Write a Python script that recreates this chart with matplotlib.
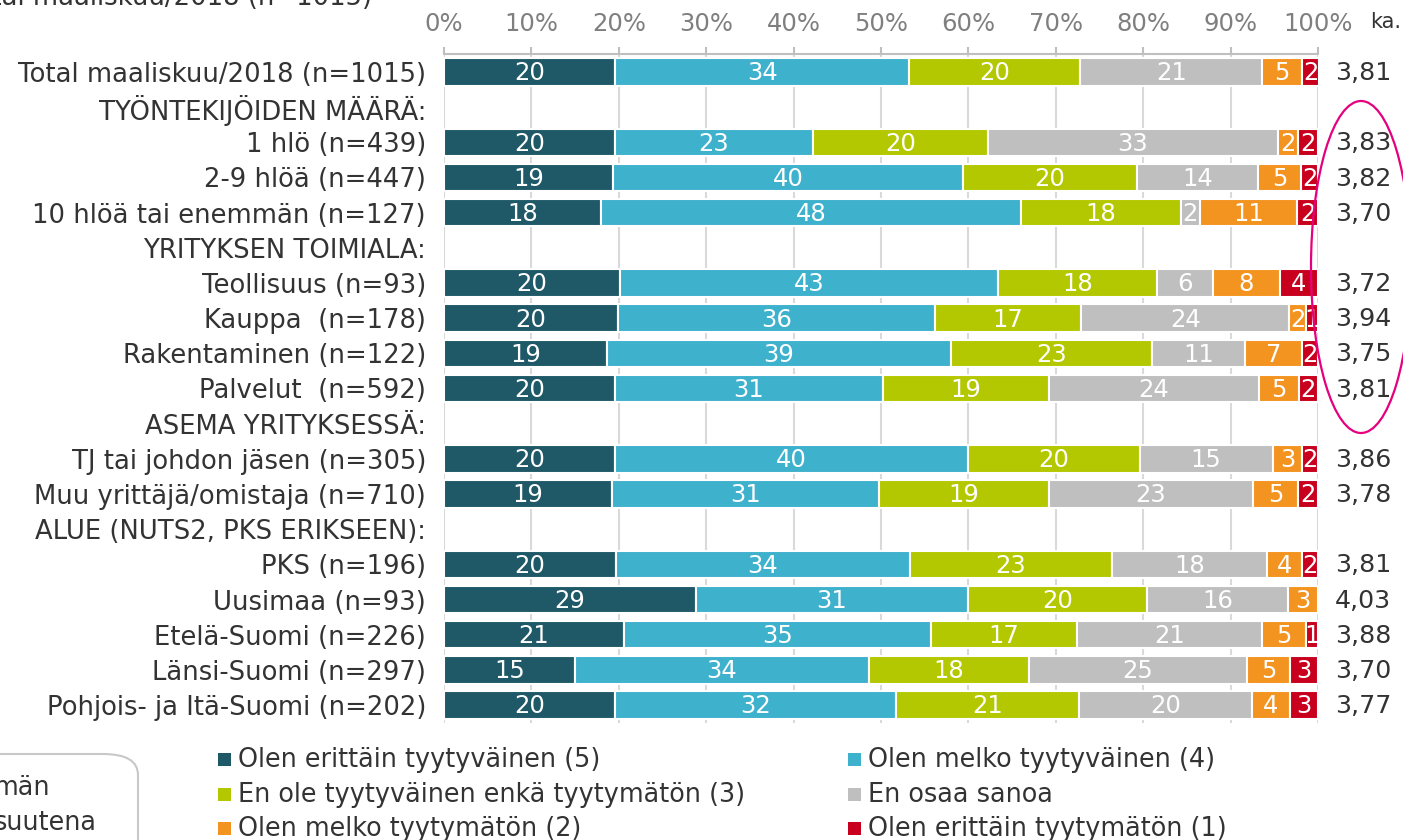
import matplotlib.pyplot as plt
from matplotlib.patches import Ellipse, FancyBboxPatch, Rectangle
import numpy as np

plt.rcParams['font.family'] = ['DejaVu Sans']

# Data (percent shares per row, None = group heading)
row_labels = [
    "Total maaliskuu/2018 (n=1015)",
    "TYÖNTEKIJÖIDEN MÄÄRÄ:",
    "1 hlö (n=439)",
    "2-9 hlöä (n=447)",
    "10 hlöä tai enemmän (n=127)",
    "YRITYKSEN TOIMIALA:",
    "Teollisuus (n=93)",
    "Kauppa  (n=178)",
    "Rakentaminen (n=122)",
    "Palvelut  (n=592)",
    "ASEMA YRITYKSESSÄ:",
    "TJ tai johdon jäsen (n=305)",
    "Muu yrittäjä/omistaja (n=710)",
    "ALUE (NUTS2, PKS ERIKSEEN):",
    "PKS (n=196)",
    "Uusimaa (n=93)",
    "Etelä-Suomi (n=226)",
    "Länsi-Suomi (n=297)",
    "Pohjois- ja Itä-Suomi (n=202)",
]

very_satisfied = [19.6, None, 19.6, 19.3, 18.0, None, 20.1, 19.9, 18.6, 19.6, None, 19.6, 19.2, None, 19.7, 28.8, 20.6, 15.0, 19.6]
fairly_satisfied = [33.6, None, 22.6, 40.1, 48.0, None, 43.3, 36.3, 39.4, 30.6, None, 40.3, 30.6, None, 33.6, 31.2, 35.1, 33.6, 32.1]
neutral = [19.6, None, 20.0, 19.9, 18.3, None, 18.2, 16.7, 23.0, 19.0, None, 19.7, 19.4, None, 23.1, 20.4, 16.7, 18.3, 21.0]
dont_know = [20.8, None, 33.2, 13.8, 2.2, None, 6.4, 23.8, 10.6, 24.0, None, 15.2, 23.4, None, 17.8, 16.2, 21.2, 25.0, 19.7]
fairly_unsatisfied = [4.6, None, 2.3, 5.0, 11.1, None, 7.6, 1.9, 6.6, 4.6, None, 3.4, 5.1, None, 4.0, 3.4, 5.0, 4.9, 4.4]
very_unsatisfied = [1.9, None, 2.3, 1.9, 2.4, None, 4.4, 1.4, 1.8, 2.2, None, 1.8, 2.3, None, 1.8, 0.0, 1.4, 3.2, 3.2]

means = ["3,81", None, "3,83", "3,82", "3,70", None, "3,72", "3,94", "3,75", "3,81", None,
         "3,86", "3,78", None, "3,81", "4,03", "3,88", "3,70", "3,77"]

series = [very_satisfied, fairly_satisfied, neutral, dont_know, fairly_unsatisfied, very_unsatisfied]
series_names = ["Olen erittäin tyytyväinen (5)", "Olen melko tyytyväinen (4)",
                "En ole tyytyväinen enkä tyytymätön (3)", "En osaa sanoa",
                "Olen melko tyytymätön (2)", "Olen erittäin tyytymätön (1)"]
colors = ['#1F5968', '#3EB1CD', '#B3C800', '#BFBFBF', '#F39320', '#C8001E']

W, H = 1403, 840
fig = plt.figure(figsize=(W / 100, H / 100), dpi=100)
ax = fig.add_axes([444 / W, 1 - 722.6 / H, 874 / W, (722.6 - 54.4) / H])

n = len(row_labels)
y = np.arange(n)
for i in range(n):
    if very_satisfied[i] is None:
        continue
    left = 0.0
    for s, c in zip(series, colors):
        v = s[i]
        if v > 0:
            ax.barh(i, v, left=left, height=0.78, color=c, edgecolor='white', linewidth=1.5, zorder=3)
            ax.text(left + v / 2, i + 0.04, f"{v:.0f}", ha='center', va='center', color='white',
                    fontsize=17.5, zorder=4)
        left += v

ax.set_xlim(0, 100)
ax.set_ylim(n - 0.5, -0.5)
ax.set_xticks(np.arange(0, 101, 10))
ax.set_xticklabels([f"{t}%" for t in range(0, 101, 10)])
ax.xaxis.tick_top()
ax.tick_params(axis='x', colors='#BFBFBF', labelcolor='#7F7F7F', labelsize=17.5, length=5, width=1.5, pad=8)
ax.set_yticks(y)
ax.set_yticklabels(row_labels)
ax.tick_params(axis='y', length=0, labelsize=18.6, labelcolor='#333333', pad=13)
ax.grid(axis='x', color='#D9D9D9', linewidth=1.5, zorder=0)
ax.set_axisbelow(True)
for sp in ['left', 'right', 'bottom']:
    ax.spines[sp].set_visible(False)
ax.spines['top'].set_color('#BFBFBF')
ax.spines['top'].set_linewidth(1.5)

# mean column
trans = ax.get_yaxis_transform()
for i, m in enumerate(means):
    if m is not None:
        ax.text(1.0195, i + 0.03, m, transform=trans, ha='left', va='center', fontsize=18.2,
                color='#333333', clip_on=False)
fig.text(1370 / W, 1 - 22 / H, "ka.", ha='left', va='center', fontsize=15, color='#333333')

# cut-off title from above
fig.text(372 / W, 1 - 5 / H, "Total maaliskuu/2018 (n=1015)", ha='right', va='baseline',
         fontsize=18.6, color='#333333')

# highlight ellipse
fig.patches.append(Ellipse((1361 / W, 1 - 267 / H), 100 / W, 332 / H, transform=fig.transFigure,
                           fill=False, edgecolor='#E5007D', linewidth=1.6))

# legend, drawn by hand in two columns
leg_order = [0, 2, 4, 1, 3, 5]
col_x = [218, 848]
row_y = [760, 795, 829]
for k, idx in enumerate(leg_order):
    cx = col_x[k // 3]
    cy = row_y[k % 3]
    fig.patches.append(Rectangle((cx / W, 1 - (cy + 6) / H), 13 / W, 13 / H,
                                 transform=fig.transFigure, facecolor=colors[idx], edgecolor='none'))
    fig.text((cx + 20) / W, 1 - cy / H, series_names[idx], ha='left', va='center',
             fontsize=18.4, color='#333333')

# partly visible note box bottom-left
fig.patches.append(FancyBboxPatch((-40 / W, 1 - 900 / H), 178 / W, 146 / H,
                                  boxstyle="round,pad=0,rounding_size=0.025",
                                  transform=fig.transFigure, fill=False,
                                  edgecolor='#C8C8C8', linewidth=1.5))
fig.text(-6 / W, 1 - 788 / H, "män", ha='left', va='center', fontsize=18.4, color='#333333')
fig.text(-6 / W, 1 - 823 / H, "suutena", ha='left', va='center', fontsize=18.4, color='#333333')

fig.savefig("out.png", dpi=100)
